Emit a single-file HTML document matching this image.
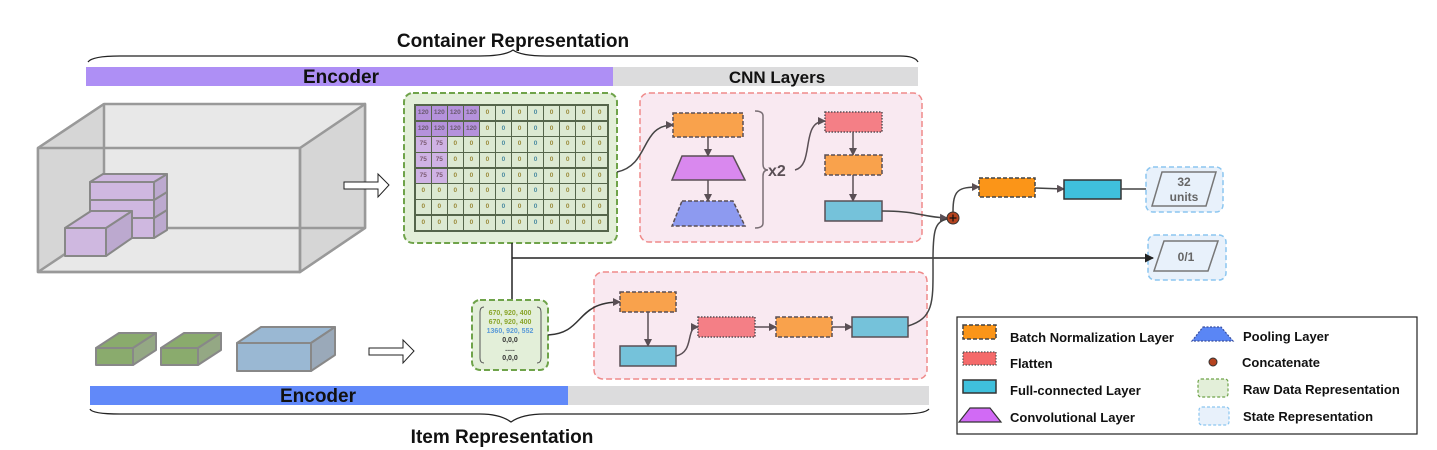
<!DOCTYPE html>
<html><head><meta charset="utf-8">
<style>
body{margin:0;width:1437px;height:450px;background:#fff;position:relative;overflow:hidden;font-family:"Liberation Sans",Arial,sans-serif}
svg{position:absolute;left:0;top:0}
.grid{position:absolute;left:414px;top:104px;width:195px;height:128px;display:grid;grid-template-columns:repeat(12,1fr);grid-template-rows:repeat(8,1fr);border:1px solid #55654b;box-sizing:border-box;background:#55654b;gap:1.5px;padding:1px}
.grid span{background:#dce9d2;font-size:6.5px;font-weight:bold;color:#9a8a3a;display:flex;align-items:center;justify-content:center;line-height:1}
.grid span.p{background:#b592dc;color:#6a5a70}
.grid span.q{background:#cfb2e4;color:#7a5a70}
.grid span.z{color:#4a8aa0}
</style></head><body>
<svg width="1437" height="450" viewBox="0 0 1437 450" xmlns="http://www.w3.org/2000/svg" font-family="Liberation Sans, Arial, sans-serif">
<defs>
<marker id="ar" markerWidth="8" markerHeight="8" refX="7" refY="4" orient="auto" markerUnits="userSpaceOnUse"><path d="M0,0 L8,4 L0,8 Z" fill="#5a4f55"/></marker>
<marker id="ak" markerWidth="9" markerHeight="9" refX="8" refY="4.5" orient="auto" markerUnits="userSpaceOnUse"><path d="M0,0 L9,4.5 L0,9 Z" fill="#222"/></marker>
</defs>
<text x="513" y="47" font-size="19" font-weight="bold" text-anchor="middle" fill="#111">Container Representation</text>
<path d="M88,62 Q92,56 120,56 L480,56 Q505,56 513,50 Q521,56 546,56 L900,56 Q915,56 918,62" fill="none" stroke="#222" stroke-width="1.3"/>
<rect x="86" y="67" width="527" height="19" fill="#ae8ff5"/>
<rect x="613" y="67" width="305" height="19" fill="#dcdcdd"/>
<text x="341" y="83" font-size="19" font-weight="bold" text-anchor="middle" fill="#111">Encoder</text>
<text x="777" y="83" font-size="17" font-weight="bold" text-anchor="middle" fill="#111">CNN Layers</text>
<rect x="90" y="386" width="478" height="19" fill="#6189f9"/>
<rect x="568" y="386" width="361" height="19" fill="#dcdcdd"/>
<text x="318" y="402" font-size="19" font-weight="bold" text-anchor="middle" fill="#111">Encoder</text>
<path d="M90,409 Q92,414 120,414 L480,414 Q500,414 511,422 Q522,414 545,414 L900,414 Q925,414 929,409" fill="none" stroke="#222" stroke-width="1.3"/>
<text x="502" y="443" font-size="19" font-weight="bold" text-anchor="middle" fill="#111">Item Representation</text>
<g stroke="#999" stroke-width="2.5" stroke-linejoin="round">
<polygon points="104,104 365,104 365,228 300,272 38,272 38,148" fill="#e8e8e8"/>
<polygon points="38,148 104,104 104,228 38,272" fill="#d6d6d6" stroke="none"/>
<polygon points="300,148 365,104 365,228 300,272" fill="#d6d6d6"/>
<line x1="104" y1="104" x2="104" y2="228"/><line x1="104" y1="228" x2="365" y2="228"/><line x1="104" y1="228" x2="38" y2="272"/>
<polygon points="38,148 300,148 300,272 38,272" fill="none"/>
<line x1="38" y1="148" x2="104" y2="104"/>
</g>
<g stroke="#888" stroke-width="2" fill="#cfb8e0" stroke-linejoin="round">
<polygon points="90,218 154,218 154,238 90,238" /><polygon points="154,218 167,210 167,230 154,238" fill="#bca9cf"/>
<polygon points="90,200 154,200 154,218 90,218"/><polygon points="154,200 167,192 167,210 154,218" fill="#bca9cf"/>
<polygon points="90,182 154,182 154,200 90,200"/><polygon points="154,182 167,174 167,192 154,200" fill="#bca9cf"/>
<polygon points="90,182 103,174 167,174 154,182"/>
<polygon points="65,228 106,228 106,256 65,256"/><polygon points="106,228 132,211 132,238 106,256" fill="#bca9cf"/>
<polygon points="65,228 91,211 132,211 106,228"/>
</g>
<polygon points="344,182 378,182 378,174 389,185 378,197 378,189 344,189" fill="#fff" stroke="#222" stroke-width="1"/>
<g stroke="#888" stroke-width="2" stroke-linejoin="round">
<polygon points="96,348 133,348 133,365 96,365" fill="#8aab6d"/><polygon points="96,348 119,333 156,333 133,348" fill="#8aab6d"/><polygon points="133,348 156,333 156,350 133,365" fill="#94a884"/>
<polygon points="161,348 198,348 198,365 161,365" fill="#8aab6d"/><polygon points="161,348 184,333 221,333 198,348" fill="#8aab6d"/><polygon points="198,348 221,333 221,350 198,365" fill="#94a884"/>
<polygon points="237,343 311,343 311,371 237,371" fill="#9ab8d3"/><polygon points="237,343 261,327 335,327 311,343" fill="#9ab8d3"/><polygon points="311,343 335,327 335,355 311,371" fill="#9aa9b9"/>
</g>
<polygon points="369,348 403,348 403,340 414,351 403,363 403,355 369,355" fill="#fff" stroke="#222" stroke-width="1"/>
<rect x="404" y="93" width="213" height="150" rx="9" fill="#e3efd9" stroke="#6fa34a" stroke-width="2" stroke-dasharray="6,3"/>
<rect x="640" y="93" width="282" height="149" rx="9" fill="#f9e9f1" stroke="#ef8a8a" stroke-width="1.5" stroke-dasharray="6,3"/>
<path d="M617,172 C650,165 640,125 673,125" fill="none" stroke="#444" stroke-width="1.5" marker-end="url(#ar)"/>
<rect x="673" y="113" width="70" height="24" fill="#f9a24c" stroke="#5a4f55" stroke-width="1.5" stroke-dasharray="4,2"/>
<line x1="708" y1="137" x2="708" y2="156" stroke="#5a4f55" stroke-width="1.5" marker-end="url(#ar)"/>
<polygon points="682,156 733,156 745,180 672,180" fill="#d988ee" stroke="#5a4f55" stroke-width="1.5"/>
<line x1="708" y1="180" x2="708" y2="201" stroke="#5a4f55" stroke-width="1.5" marker-end="url(#ar)"/>
<polygon points="682,201 733,201 745,226 672,226" fill="#8d9af0" stroke="#5a4f55" stroke-width="1.5" stroke-dasharray="4,2"/>
<path d="M755,111 Q763,111 763,116 L763,164 Q763,170 768,170 Q763,170 763,176 L763,223 Q763,228 755,228" fill="none" stroke="#7a6f75" stroke-width="1.5"/>
<text x="768" y="176" font-size="16" font-weight="bold" fill="#5a4f55">x2</text>
<path d="M795,170 C815,165 800,121 825,121" fill="none" stroke="#5a4f55" stroke-width="1.5" marker-end="url(#ar)"/>
<rect x="825" y="112" width="57" height="20" fill="#f47f86" stroke="#5a4f55" stroke-width="1.5" stroke-dasharray="1.5,1.5"/>
<line x1="853" y1="132" x2="853" y2="155" stroke="#5a4f55" stroke-width="1.5" marker-end="url(#ar)"/>
<rect x="825" y="155" width="57" height="20" fill="#f9a24c" stroke="#5a4f55" stroke-width="1.5" stroke-dasharray="4,2"/>
<line x1="853" y1="175" x2="853" y2="201" stroke="#5a4f55" stroke-width="1.5" marker-end="url(#ar)"/>
<rect x="825" y="201" width="57" height="20" fill="#75c2da" stroke="#5a4f55" stroke-width="1.5"/>
<path d="M882,211 C920,211 920,217 947,218" fill="none" stroke="#444" stroke-width="1.5" marker-end="url(#ar)"/>
<circle cx="953" cy="218" r="6" fill="#b5431f" stroke="#333" stroke-width="1"/>
<path d="M949.5,218 h7 M953,214.5 v7" stroke="#111" stroke-width="1.2"/>
<path d="M953,212 C953,190 958,187 979,187" fill="none" stroke="#444" stroke-width="1.5" marker-end="url(#ar)"/>
<rect x="979" y="178" width="56" height="19" fill="#fb9518" stroke="#444" stroke-width="1.5" stroke-dasharray="4,2"/>
<line x1="1035" y1="188" x2="1064" y2="189" stroke="#444" stroke-width="1.5" marker-end="url(#ar)"/>
<rect x="1064" y="180" width="57" height="19" fill="#3fc0dc" stroke="#333" stroke-width="1.5"/>
<line x1="1121" y1="189" x2="1153" y2="189" stroke="#444" stroke-width="1.5" marker-end="url(#ar)"/>
<rect x="1146" y="167" width="77" height="45" rx="7" fill="#e8f1fb" stroke="#8cc6f0" stroke-width="1.5" stroke-dasharray="5,3"/>
<polygon points="1162,172 1216,172 1206,206 1152,206" fill="#e8f1fb" stroke="#777" stroke-width="1.5"/>
<text x="1184" y="186" font-size="12" font-weight="bold" fill="#666" text-anchor="middle">32</text>
<text x="1184" y="201" font-size="12" font-weight="bold" fill="#666" text-anchor="middle">units</text>
<rect x="1148" y="235" width="78" height="45" rx="7" fill="#e8f1fb" stroke="#8cc6f0" stroke-width="1.5" stroke-dasharray="5,3"/>
<polygon points="1164,241 1218,241 1208,271 1154,271" fill="#e8f1fb" stroke="#777" stroke-width="1.5"/>
<text x="1186" y="261" font-size="12" font-weight="bold" fill="#666" text-anchor="middle">0/1</text>
<line x1="512" y1="243" x2="512" y2="300" stroke="#222" stroke-width="1.5"/>
<line x1="512" y1="258" x2="1153" y2="258" stroke="#222" stroke-width="1.5" marker-end="url(#ak)"/>
<rect x="472" y="300" width="76" height="70" rx="8" fill="#e3efd9" stroke="#6fa34a" stroke-width="2" stroke-dasharray="6,3"/>
<path d="M484,307 Q480,307 480,312 L480,358 Q480,363 484,363 M537,307 Q541,307 541,312 L541,358 Q541,363 537,363" fill="none" stroke="#555" stroke-width="1"/>
<g font-size="7" font-weight="bold" text-anchor="middle">
<text x="510" y="315" fill="#8aa52a">670, 920, 400</text>
<text x="510" y="324" fill="#8aa52a">670, 920, 400</text>
<text x="510" y="333" fill="#5a9ad8">1360, 920, 552</text>
<text x="510" y="342" fill="#333">0,0,0</text>
<text x="510" y="351" fill="#333">.....</text>
<text x="510" y="360" fill="#333">0,0,0</text>
</g>
<rect x="594" y="272" width="333" height="107" rx="9" fill="#f9e9f1" stroke="#ef8a8a" stroke-width="1.5" stroke-dasharray="6,3"/>
<path d="M548,335 C585,333 575,302 620,302" fill="none" stroke="#333" stroke-width="1.5" marker-end="url(#ar)"/>
<rect x="620" y="292" width="56" height="20" fill="#f9a24c" stroke="#5a4f55" stroke-width="1.5" stroke-dasharray="4,2"/>
<line x1="648" y1="312" x2="648" y2="346" stroke="#5a4f55" stroke-width="1.5" marker-end="url(#ar)"/>
<rect x="620" y="346" width="56" height="20" fill="#75c2da" stroke="#5a4f55" stroke-width="1.5"/>
<path d="M676,356 C695,352 685,327 698,327" fill="none" stroke="#5a4f55" stroke-width="1.5" marker-end="url(#ar)"/>
<rect x="698" y="317" width="57" height="20" fill="#f47f86" stroke="#5a4f55" stroke-width="1.5" stroke-dasharray="1.5,1.5"/>
<line x1="755" y1="327" x2="776" y2="327" stroke="#5a4f55" stroke-width="1.5" marker-end="url(#ar)"/>
<rect x="776" y="317" width="56" height="20" fill="#f9a24c" stroke="#5a4f55" stroke-width="1.5" stroke-dasharray="4,2"/>
<line x1="832" y1="327" x2="852" y2="327" stroke="#5a4f55" stroke-width="1.5" marker-end="url(#ar)"/>
<rect x="852" y="317" width="56" height="20" fill="#75c2da" stroke="#5a4f55" stroke-width="1.5"/>
<path d="M908,326 C935,318 933,300 933,260 C933,230 935,222 947,219" fill="none" stroke="#444" stroke-width="1.5"/>
<rect x="957" y="317" width="460" height="117" fill="#fff" stroke="#222" stroke-width="1.2"/>
<g font-size="13" font-weight="bold" fill="#111">
<rect x="963" y="325" width="33" height="14" fill="#fb9518" stroke="#444" stroke-width="1.5" stroke-dasharray="4,2"/>
<text x="1010" y="342">Batch Normalization Layer</text>
<rect x="963" y="352" width="33" height="13" fill="#f46a6a" stroke="#555" stroke-width="1.2" stroke-dasharray="1.5,1.5"/>
<text x="1010" y="368">Flatten</text>
<rect x="963" y="380" width="33" height="13" fill="#3fc0dc" stroke="#333" stroke-width="1.5"/>
<text x="1010" y="395">Full-connected Layer</text>
<polygon points="970,408 990,408 1001,422 959,422" fill="#d16af5" stroke="#333" stroke-width="1.2"/>
<text x="1010" y="422">Convolutional Layer</text>
<polygon points="1203,327 1221,327 1233,341 1192,341" fill="#5a86f5" stroke="#3a4f9f" stroke-width="1.2" stroke-dasharray="2,1.5"/>
<text x="1243" y="341">Pooling Layer</text>
<circle cx="1213" cy="362" r="4" fill="#b5431f" stroke="#333"/>
<text x="1242" y="367">Concatenate</text>
<rect x="1198" y="379" width="30" height="18" rx="3" fill="#e3efd9" stroke="#6fa34a" stroke-width="1.2" stroke-dasharray="3,2"/>
<text x="1243" y="394">Raw Data Representation</text>
<rect x="1199" y="407" width="30" height="18" rx="3" fill="#e8f1fb" stroke="#8cc6f0" stroke-width="1.2" stroke-dasharray="3,2"/>
<text x="1243" y="421">State Representation</text>
</g>
</svg>
<div class="grid">
<span class="p">120</span><span class="p">120</span><span class="p">120</span><span class="p">120</span><span>0</span><span class="z">0</span><span>0</span><span class="z">0</span><span>0</span><span>0</span><span>0</span><span>0</span>
<span class="p">120</span><span class="p">120</span><span class="p">120</span><span class="p">120</span><span>0</span><span class="z">0</span><span>0</span><span class="z">0</span><span>0</span><span>0</span><span>0</span><span>0</span>
<span class="q">75</span><span class="q">75</span><span>0</span><span>0</span><span>0</span><span class="z">0</span><span>0</span><span class="z">0</span><span>0</span><span>0</span><span>0</span><span>0</span>
<span class="q">75</span><span class="q">75</span><span>0</span><span>0</span><span>0</span><span class="z">0</span><span>0</span><span class="z">0</span><span>0</span><span>0</span><span>0</span><span>0</span>
<span class="q">75</span><span class="q">75</span><span>0</span><span>0</span><span>0</span><span class="z">0</span><span>0</span><span class="z">0</span><span>0</span><span>0</span><span>0</span><span>0</span>
<span>0</span><span>0</span><span>0</span><span>0</span><span>0</span><span class="z">0</span><span>0</span><span class="z">0</span><span>0</span><span>0</span><span>0</span><span>0</span>
<span>0</span><span>0</span><span>0</span><span>0</span><span>0</span><span class="z">0</span><span>0</span><span class="z">0</span><span>0</span><span>0</span><span>0</span><span>0</span>
<span>0</span><span>0</span><span>0</span><span>0</span><span>0</span><span class="z">0</span><span>0</span><span class="z">0</span><span>0</span><span>0</span><span>0</span><span>0</span>
</div>
</body></html>
